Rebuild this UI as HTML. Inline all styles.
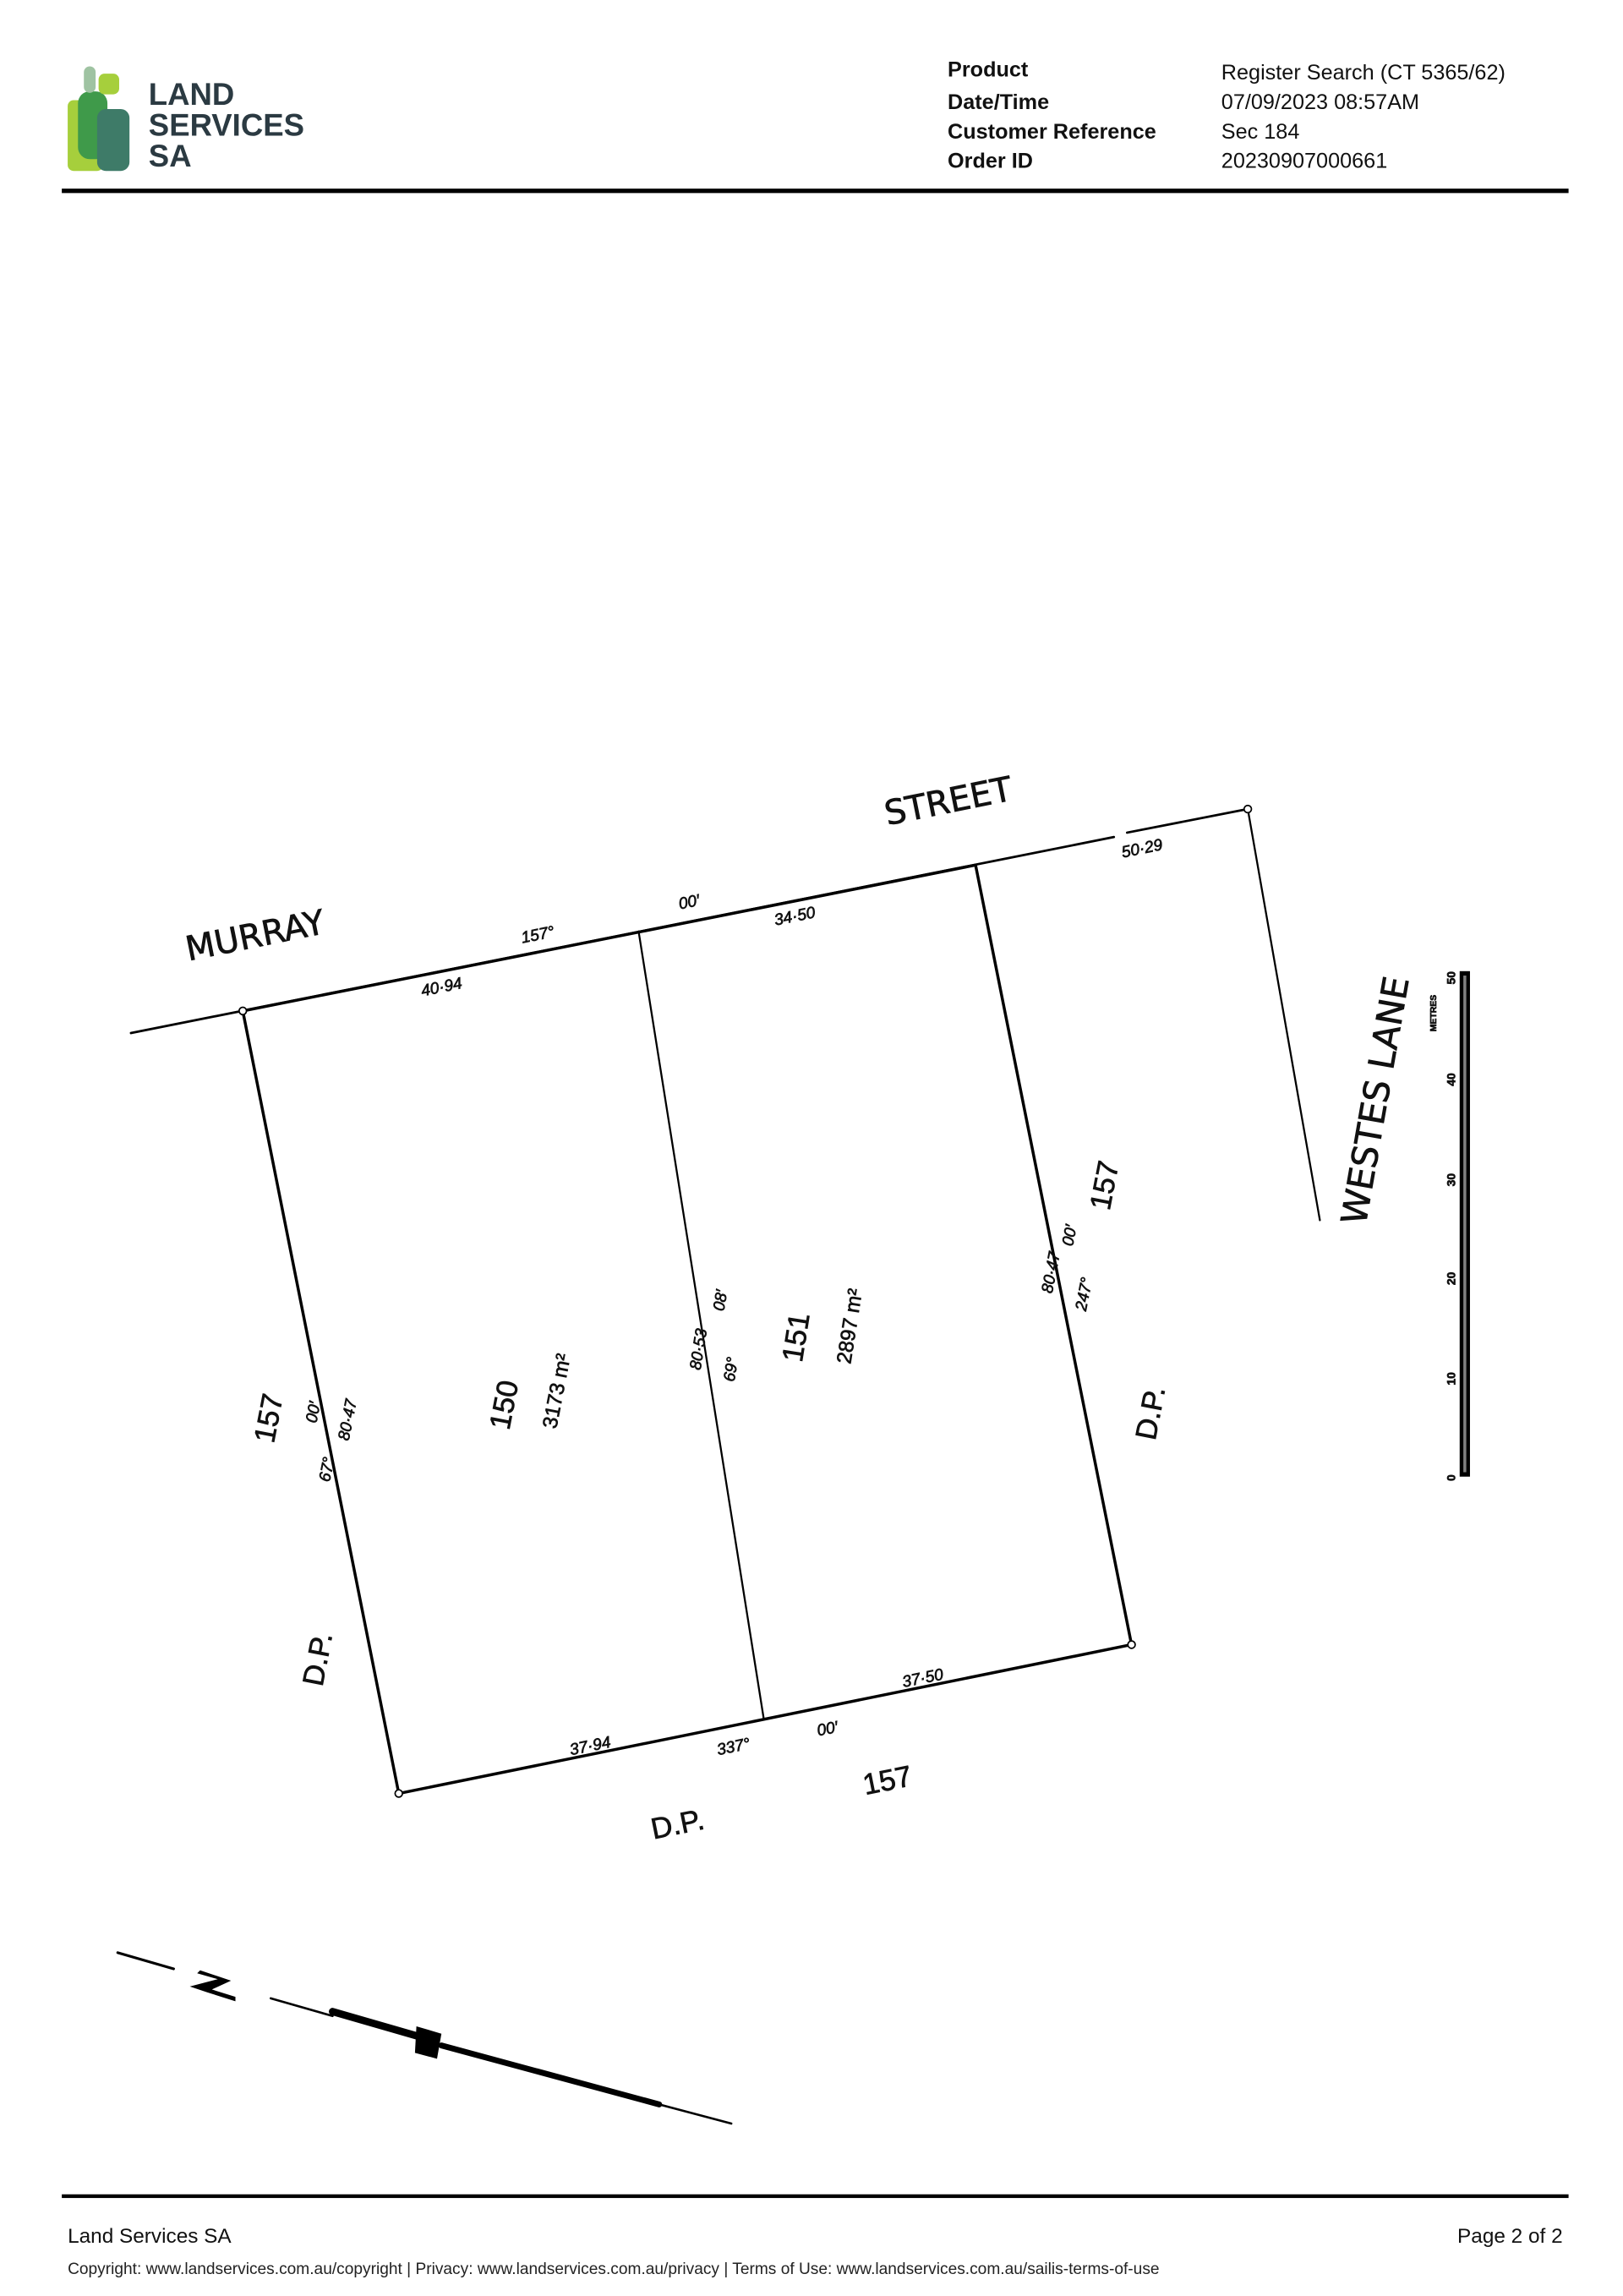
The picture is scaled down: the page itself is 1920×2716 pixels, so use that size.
<!DOCTYPE html>
<html><head><meta charset="utf-8"><style>
html,body{margin:0;padding:0;background:#fff}
svg{display:block}
text{font-family:"Liberation Sans",sans-serif}
.h{font-size:14.5px;fill:#111}
.hb{font-size:14.5px;font-weight:bold;fill:#111}
.d{font-family:"DejaVu Sans","Liberation Sans",sans-serif;fill:#111;stroke:#111;stroke-width:0.4}
</style></head><body>
<svg width="1920" height="2716" viewBox="0 0 1103 1558" preserveAspectRatio="none" xmlns="http://www.w3.org/2000/svg">
<!-- logo -->
<rect x="46" y="68" width="24" height="48" rx="4" fill="#a6cf3c"/>
<rect x="53" y="62" width="20" height="46" rx="8" fill="#3f9a4a"/>
<rect x="57" y="45" width="8" height="18" rx="4" fill="#9fc3a2"/>
<rect x="67" y="50" width="14" height="14" rx="4" fill="#a6cf3c"/>
<rect x="66" y="74" width="22" height="42" rx="6" fill="#3e7b68"/>
<text x="101" y="71" style="font-size:21px;font-weight:bold;fill:#2b3a42">LAND</text>
<text x="101" y="92" style="font-size:21px;font-weight:bold;fill:#2b3a42">SERVICES</text>
<text x="101" y="113" style="font-size:21px;font-weight:bold;fill:#2b3a42">SA</text>
<!-- header text -->
<text class="hb" x="644" y="52">Product</text>
<text class="hb" x="644" y="74">Date/Time</text>
<text class="hb" x="644" y="94">Customer Reference</text>
<text class="hb" x="644" y="114">Order ID</text>
<text class="h" x="830" y="54">Register Search (CT 5365/62)</text>
<text class="h" x="830" y="74">07/09/2023 08:57AM</text>
<text class="h" x="830" y="94">Sec 184</text>
<text class="h" x="830" y="114">20230907000661</text>
<rect x="42" y="128" width="1024" height="3" fill="#000"/>
<!-- plan lines -->
<g stroke="#000" fill="none" stroke-linecap="round">
<line x1="89" y1="701" x2="757" y2="568" stroke-width="1.6"/>
<line x1="766" y1="565" x2="848" y2="549" stroke-width="1.6"/>
<line x1="848" y1="549" x2="897" y2="828" stroke-width="1.3"/>
<line x1="165" y1="686" x2="271" y2="1217" stroke-width="2"/>
<line x1="434" y1="632" x2="519" y2="1166" stroke-width="1.3"/>
<line x1="663" y1="587" x2="769" y2="1116" stroke-width="2"/>
<line x1="271" y1="1217" x2="769" y2="1116" stroke-width="2"/>
<line x1="165" y1="686" x2="663" y2="587" stroke-width="2"/>
</g>
<g fill="#fff" stroke="#000" stroke-width="1">
<circle cx="165" cy="686" r="2.5"/><circle cx="848" cy="549" r="2.5"/>
<circle cx="271" cy="1217" r="2.5"/><circle cx="769" cy="1116" r="2.5"/>
</g>
<!-- street labels -->
<text class="d" transform="translate(128,652) rotate(-11.4)" style="font-size:23px">MURRAY</text>
<text class="d" transform="translate(603,560) rotate(-11.4)" style="font-size:23px">STREET</text>
<text class="d" transform="translate(928,832) rotate(-80)" style="font-size:24px">WESTES LANE</text>
<g class="d" style="font-size:11px;font-style:italic">
<text transform="translate(287,676) rotate(-11.4)">40·94</text>
<text transform="translate(355,640) rotate(-11.4)">157°</text>
<text transform="translate(462,617) rotate(-11.4)">00′</text>
<text transform="translate(527,628) rotate(-11.4)">34·50</text>
<text transform="translate(763,582) rotate(-11.4)">50·29</text>
<text transform="translate(388,1191) rotate(-11.4)">37·94</text>
<text transform="translate(488,1191) rotate(-11.4)">337°</text>
<text transform="translate(556,1178) rotate(-11.4)">00′</text>
<text transform="translate(614,1145) rotate(-11.4)">37·50</text>
<text transform="translate(237,978) rotate(-79)">80·47</text>
<text transform="translate(224,1006) rotate(-79)">67°</text>
<text transform="translate(215,966) rotate(-79)">00′</text>
<text transform="translate(476,930) rotate(-81)">80·53</text>
<text transform="translate(499,938) rotate(-81)">69°</text>
<text transform="translate(492,890) rotate(-81)">08′</text>
<text transform="translate(715,878) rotate(-79)">80·47</text>
<text transform="translate(738,890) rotate(-79)">247°</text>
<text transform="translate(729,846) rotate(-79)">00′</text>
</g>
<g class="d" style="font-size:20px">
<text transform="translate(186,980) rotate(-79)">157</text>
<text transform="translate(219,1145) rotate(-79)">D.P.</text>
<text transform="translate(346,971) rotate(-79)">150</text>
<text transform="translate(545,925) rotate(-81)">151</text>
<text transform="translate(754,822) rotate(-79)">157</text>
<text transform="translate(785,978) rotate(-79)">D.P.</text>
<text transform="translate(444,1248) rotate(-11.4)">D.P.</text>
<text transform="translate(588,1218) rotate(-11.4)">157</text>
</g>
<g class="d" style="font-size:14px">
<text transform="translate(378,970) rotate(-79)">3173 m²</text>
<text transform="translate(578,926) rotate(-81)">2897 m²</text>
</g>
<!-- scale bar -->
<rect x="992" y="659" width="7" height="343" fill="#000"/>
<rect x="994.5" y="662" width="2" height="337" fill="#fff" opacity="0.5"/>
<g class="d" style="font-size:8px;font-weight:bold">
<text transform="translate(989,1005) rotate(-90)">0</text>
<text transform="translate(989,940) rotate(-90)">10</text>
<text transform="translate(989,872) rotate(-90)">20</text>
<text transform="translate(989,805) rotate(-90)">30</text>
<text transform="translate(989,737) rotate(-90)">40</text>
<text transform="translate(989,668) rotate(-90)">50</text>
<text transform="translate(976,700) rotate(-90)" style="font-size:6px">METRES</text>
</g>
<!-- north arrow -->
<g stroke="#000" stroke-linecap="round" fill="none">
<line x1="80" y1="1325" x2="118" y2="1336" stroke-width="1.8"/>
<line x1="184" y1="1356" x2="226" y2="1368" stroke-width="1.5"/>
<line x1="226" y1="1365" x2="285" y2="1382" stroke-width="5"/>
<line x1="300" y1="1388" x2="448" y2="1428" stroke-width="4"/>
<line x1="448" y1="1428" x2="497" y2="1441" stroke-width="1.5"/>
</g>
<polygon points="283,1375 300,1380 297,1397 282,1393" fill="#000"/>
<polygon points="136,1337 157,1344 144,1350 160,1355 160,1358 141,1352 129,1348 148,1343 134,1339" fill="#000"/>
<!-- footer -->
<rect x="42" y="1489" width="1024" height="2.5" fill="#000"/>
<text x="46" y="1522" style="font-size:14px;fill:#111">Land Services SA</text>
<text x="1062" y="1522" text-anchor="end" style="font-size:14px;fill:#111">Page 2 of 2</text>
<text x="46" y="1543" style="font-size:11px;fill:#222">Copyright: www.landservices.com.au/copyright | Privacy: www.landservices.com.au/privacy | Terms of Use: www.landservices.com.au/sailis-terms-of-use</text>
</svg>
</body></html>
